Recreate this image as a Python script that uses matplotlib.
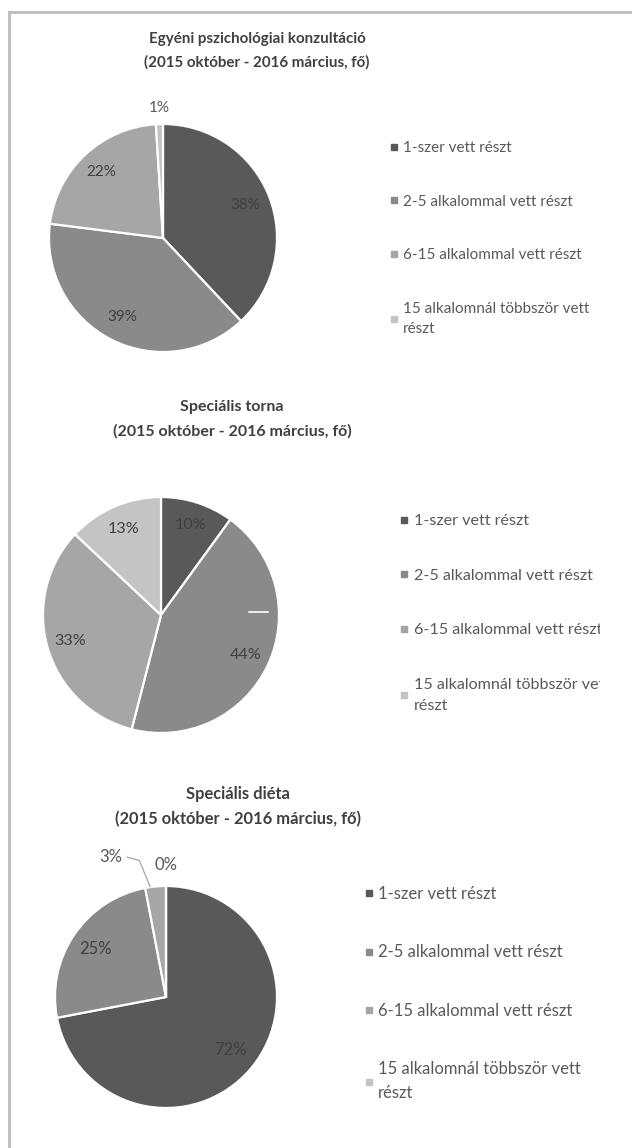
import numpy as np
import matplotlib
matplotlib.use("Agg")
import matplotlib.pyplot as plt
from matplotlib.lines import Line2D
from matplotlib.patches import Rectangle

plt.rcParams['font.family'] = ['Lato', 'DejaVu Sans']

W, H = 632, 1148

# data
categories = [
    "1-szer vett részt",
    "2-5 alkalommal vett részt",
    "6-15 alkalommal vett részt",
    "15 alkalomnál többször vett\nrészt",
]
titles = [
    "Egyéni pszichológiai konzultáció",
    "Speciális torna",
    "Speciális diéta",
]
period = "(2015 október - 2016 március, fő)"

konzultacio = [38, 39, 22, 1]
torna = [10, 44, 33, 13]
dieta = [72, 25, 3, 0]

colors = ['#595959', '#8a8a8a', '#a6a6a6', '#c4c4c4']
text_dark = '#404040'
text_grey = '#595959'


def fx(x):
    return x / W


def fy(y):
    return 1 - y / H


# layout in pixels: pie centre, radius, title centre, legend anchor, label distances.
# the three charts were pasted at slightly different zoom levels, hence `s`
charts = [
    dict(values=konzultacio, title=titles[0], cx=163, cy=238, r=114, s=1.0,
         tx=257, ty=39, lx=390, ly=141, ls=2.6, lsp=1.55,
         dist=[0.78, 0.78, 0.79, 1.14]),
    dict(values=torna, title=titles[1], cx=161, cy=615, r=118, s=1.055,
         tx=232, ty=407, lx=400, ly=514, ls=2.5, lsp=1.65,
         dist=[0.80, 0.79, 0.80, 0.79]),
    dict(values=dieta, title=titles[2], cx=166, cy=997, r=111, s=1.09,
         tx=238, ty=794, lx=364, ly=886, ls=2.55, lsp=1.62,
         dist=[0.75, 0.77, None, 1.19]),
]

fig = plt.figure(figsize=(W / 100, H / 100), dpi=100)
fig.patch.set_facecolor('white')

# scanned page frame
fig.add_artist(Line2D([fx(9), fx(9)], [fy(12), fy(H)], color='#bfbfbf', lw=2.2))
fig.add_artist(Line2D([fx(9), fx(W)], [fy(12), fy(12)], color='#bfbfbf', lw=2.2))

E = 1.45
handles = [Line2D([], [], ls='', marker='s', markersize=4.3, color=c) for c in colors]

for i, ch in enumerate(charts):
    cx, cy, r, s = ch['cx'], ch['cy'], ch['r'], ch['s']
    ax = fig.add_axes([fx(cx - r * E), fy(cy + r * E), 2 * r * E / W, 2 * r * E / H])
    wedges, _ = ax.pie(ch['values'], colors=colors, startangle=90, counterclock=False,
                       wedgeprops=dict(edgecolor='white', linewidth=1.6))
    ax.set_xlim(-E, E)
    ax.set_ylim(-E, E)
    ax.axis('off')

    for w, v, d in zip(wedges, ch['values'], ch['dist']):
        ang = np.deg2rad((w.theta1 + w.theta2) / 2)
        if d is None:
            # small slice: label pulled out to the upper left with a leader line
            ex, ey = np.cos(ang), np.sin(ang)
            ax.plot([ex - 0.05, -0.24, -0.35], [ey, 1.23, 1.26], color='#a6a6a6', lw=0.9)
            ax.text(-0.50, 1.26, f"{v}%", ha='center', va='center', fontsize=11 * s,
                    color=text_grey)
            continue
        col = text_grey if d > 1 else text_dark
        ax.text(d * np.cos(ang), d * np.sin(ang), f"{v}%", ha='center', va='center',
                fontsize=11 * s, color=col)

    if i == 1:
        # white scan scratch inside the second pie
        ax.plot([0.75, 0.91], [0.025, 0.025], color='white', lw=1.2)

    fig.text(fx(ch['tx']), fy(ch['ty']), ch['title'], ha='center', va='center',
             fontsize=10.9 * s, fontweight='bold', color=text_dark)
    fig.text(fx(ch['tx']), fy(ch['ty'] + 23 * s), period, ha='center', va='center',
             fontsize=10.9 * s, fontweight='bold', color=text_dark)

    leg = fig.legend(handles=handles, labels=categories, loc='upper left',
                     bbox_to_anchor=(fx(ch['lx']), fy(ch['ly'])), frameon=False,
                     fontsize=11 * s, labelcolor=text_grey, handlelength=0.55,
                     handletextpad=0.3, labelspacing=ch['ls'], borderpad=0,
                     borderaxespad=0)
    leg.get_texts()[-1].set_linespacing(ch['lsp'])

# the second legend is cut off at the right edge in the source
fig.add_artist(Rectangle((fx(600), fy(750)), 1 - fx(600), (750 - 500) / H,
                         transform=fig.transFigure, facecolor='white', edgecolor='none',
                         zorder=10))

fig.savefig('out.png', dpi=100, facecolor='white')
